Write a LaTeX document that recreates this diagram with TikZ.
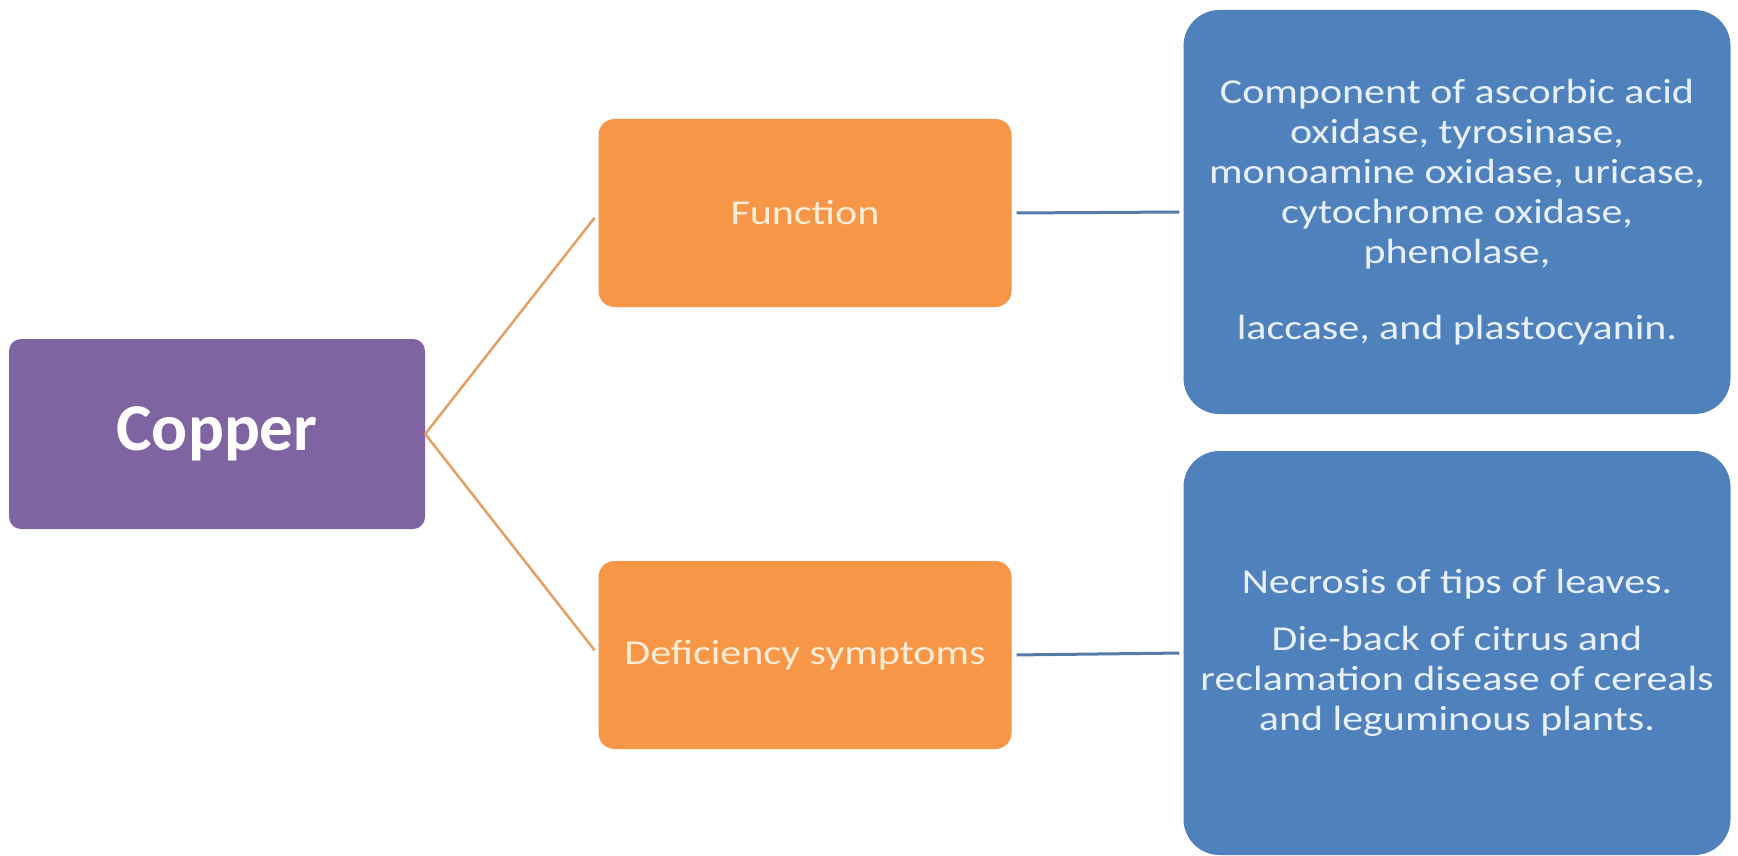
\documentclass[tikz,border=0pt]{standalone}
\usepackage{fontspec}
\setmainfont{Carlito}
\newfontfamily\boxfont[FakeStretch=1.2]{Carlito}
\definecolor{cuPurple}{RGB}{128,100,162}
\definecolor{cuOrange}{RGB}{247,150,70}
\definecolor{cuBlue}{RGB}{79,129,189}
\definecolor{cuOrangeLine}{RGB}{228,160,96}
\definecolor{cuBlueLine}{RGB}{84,122,168}
\definecolor{cuCream}{RGB}{253,236,214}
\definecolor{cuPale}{RGB}{232,240,250}
\tikzset{
  rootbox/.style={rectangle, rounded corners=12pt, fill=cuPurple, inner sep=0pt,
    minimum width=416pt, minimum height=190pt, text=white,
    font=\fontsize{67}{80}\selectfont\bfseries},
  branchbox/.style={rectangle, rounded corners=16pt, fill=cuOrange, inner sep=0pt,
    minimum width=413pt, minimum height=188pt, text=cuCream,
    font=\boxfont\fontsize{35}{42}\selectfont},
  leafbox/.style={rectangle, rounded corners=36pt, fill=cuBlue, inner sep=0pt,
    minimum width=547pt, minimum height=404pt, text=cuPale, align=center,
    font=\boxfont\fontsize{35}{40}\selectfont},
  rootlink/.style={draw=cuOrangeLine, line width=2.5pt, shorten >=6pt},
  leaflink/.style={draw=cuBlueLine, line width=3pt, shorten <=5pt, shorten >=4pt}
}
\begin{document}
\begin{tikzpicture}[x=1pt,y=-1pt]
  % page frame
  \fill[white] (0,0) rectangle (1738,856);
  \useasboundingbox (0,0) rectangle (1738,856);

  % root and branches
  \node[rootbox] (copper) at (217,434) {Copper};
  \node[branchbox] (func) at (805,213) {Function};
  \node[branchbox] (defic) at (805,655) {Deficiency symptoms};

  % detail boxes
  \node[leafbox] (funcinfo) at (1457,212) {Component of ascorbic acid\\
    oxidase, tyrosinase,\\
    monoamine oxidase, uricase,\\
    cytochrome oxidase,\\
    phenolase,\\[36pt]
    laccase, and plastocyanin.};
  \node[leafbox] (deficinfo) at (1457,653) {Necrosis of tips of leaves.\\[17pt]
    Die-back of citrus and\\
    reclamation disease of cereals\\
    and leguminous plants.};

  % connectors
  \draw[rootlink] (copper.east) -- (func.west);
  \draw[rootlink] (copper.east) -- (defic.west);
  \draw[leaflink] (func.east) -- (funcinfo.west);
  \draw[leaflink] (defic.east) -- (deficinfo.west);
\end{tikzpicture}
\end{document}
